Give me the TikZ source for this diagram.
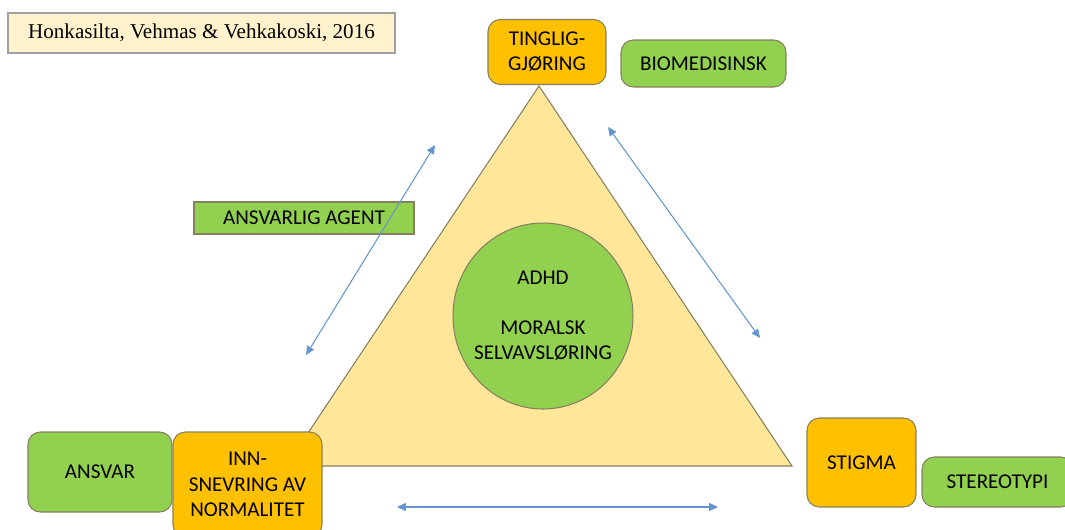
\documentclass[tikz,border=0pt]{standalone}
\usepackage{fontspec}
\setmainfont{Carlito}
\newfontfamily\citefont{Liberation Serif}
\usepackage{tikz}
\usetikzlibrary{
  shapes.geometric,
  arrows.meta,
  positioning
}
\definecolor{adhdorange}{RGB}{255,192,0}
\definecolor{adhdgreen}{RGB}{146,208,80}
\definecolor{adhdyellow}{RGB}{255,230,153}
\definecolor{adhdcream}{RGB}{255,242,204}
\definecolor{adhdblue}{RGB}{100,150,205}
\definecolor{adhdedge}{RGB}{135,128,95}
\definecolor{adhdgray}{RGB}{160,160,160}
\tikzset{
  box/.style={
    rectangle, draw=adhdedge, line width=0.6pt,
    text centered, align=center, font=\fontsize{12}{14.4}\selectfont,
    inner sep=2pt
  },
  boxO/.style={
    box, fill=adhdorange, rounded corners=7pt
  },
  boxG/.style={
    box, fill=adhdgreen, rounded corners=7pt
  },
  boxGflat/.style={
    box, fill=adhdgreen
  },
  citebox/.style={
    rectangle, draw=adhdgray, line width=0.8pt, fill=adhdcream,
    font=\citefont\fontsize{12}{14.4}\selectfont
  },
  arrowboth/.style={
    {Triangle[length=5pt,width=4.5pt]}-{Triangle[length=5pt,width=4.5pt]},
    line width=0.6pt, color=adhdblue
  }
}

\begin{document}
\begin{tikzpicture}[x=0.02cm, y=-0.02cm]
\clip (0,0) rectangle (1065,529);
\fill[white] (0,0) rectangle (1065,529);

% triangle with the circle
\coordinate (ttop)   at (539,86);
\coordinate (tleft)  at (286,466);
\coordinate (tright) at (792,466);
\draw[fill=adhdyellow, draw=adhdedge, line width=0.6pt]
  (ttop) -- (tright) -- (tleft) -- cycle;

\node[ellipse, draw=adhdedge, line width=0.6pt, fill=adhdgreen,
      minimum width=3.6cm, minimum height=3.72cm] (adhd) at (543,316) {};
\node[align=center, font=\fontsize{12}{14.2}\selectfont] (adhdtxt) at (adhd.center)
  {ADHD\\[14.2pt]MORALSK\\SELVAVSLØRING};

% corner boxes
\node[citebox, minimum width=7.74cm, minimum height=0.8cm]
  (cite) at (201.5,33) {Honkasilta, Vehmas \& Vehkakoski, 2016};

\node[boxO, minimum width=2.36cm, minimum height=1.3cm]
  (ting) at (547,52) {TINGLIG-\\GJØRING};
\node[boxG, minimum width=3.3cm, minimum height=0.94cm]
  (bio) at (703.5,63.5) {BIOMEDISINSK};

\node[boxGflat, minimum width=4.4cm, minimum height=0.64cm]
  (agent) at (304,218) {ANSVARLIG AGENT};

\node[boxO, minimum width=2.98cm, minimum height=2.1cm]
  (inn) at (247.5,484.5) {INN-\\SNEVRING AV\\NORMALITET};
\node[boxG, minimum width=2.88cm, minimum height=1.6cm, anchor=north east]
  (ansvar) at (inn.north west) {ANSVAR};

\node[boxO, minimum width=2.18cm, minimum height=1.78cm]
  (stigma) at (861.5,462.5) {STIGMA};
\node[boxG, minimum width=3.02cm, minimum height=1.0cm]
  (stereo) at (997.5,482) {STEREOTYPI};

% arrows along the sides
\coordinate (lwA) at (306,355);
\coordinate (lwB) at (435,145);
\coordinate (rtA) at (608,127);
\coordinate (rtB) at (760,338);
\coordinate (btA) at (397,507);
\coordinate (btB) at (718,507);
\draw[arrowboth] (lwA) -- (lwB);
\draw[arrowboth] (rtA) -- (rtB);
\draw[arrowboth] (btA) -- (btB);
\end{tikzpicture}
\end{document}
